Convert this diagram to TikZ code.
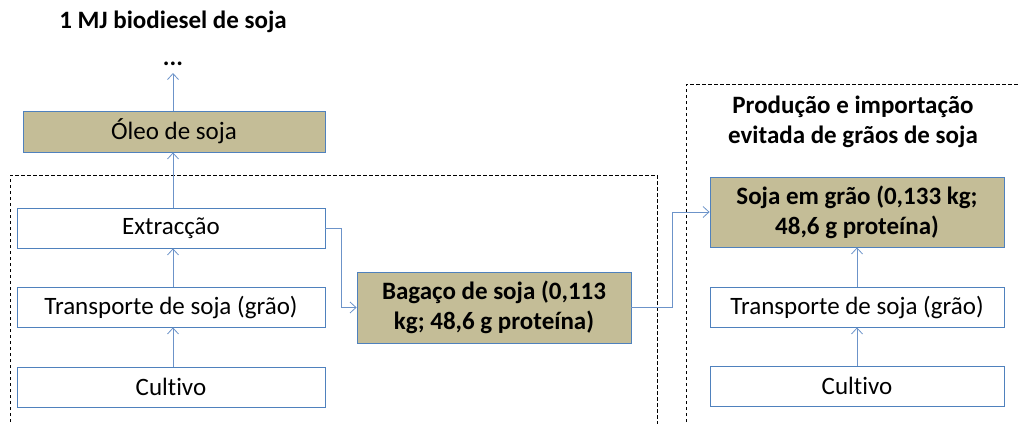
\documentclass[tikz,border=0pt]{standalone}
\usepackage{fontspec}
\setmainfont{Carlito}[RawFeature=-liga]
\usetikzlibrary{arrows.meta}
\definecolor{boxblue}{HTML}{4F81BD}
\definecolor{arrblue}{HTML}{6C93C9}
\definecolor{tan}{HTML}{C4BD97}
\begin{document}
\begin{tikzpicture}[x=1pt,y=-1pt,
  box/.style={draw=boxblue,line width=0.8pt,inner sep=0pt,align=center,font=\fontsize{25}{30}\selectfont},
  wbox/.style={box,fill=white},
  tbox/.style={box,fill=tan},
  bfont/.style={font=\fontsize{25}{30}\selectfont\bfseries},
  conn/.style={draw=arrblue,line width=0.8pt,-{Straight Barb[length=6pt,width=11pt]}},
  grp/.style={draw=black,line width=0.7pt,dash pattern=on 3.5pt off 2.5pt}]
\useasboundingbox (0,0) rectangle (1019,423);
\clip (0,0) rectangle (1019,423);
% group frames
\draw[grp] (10,440) -- (10,175) -- (657,175) -- (657,440);
\draw[grp] (686,440) -- (686,84) -- (1040,84);
% titles
\node[bfont] (title) at (173,22) {1 MJ biodiesel de soja};
\node[bfont,inner sep=0pt,anchor=south] (dots) at (173,66) {...};
\node[bfont,align=center] (rtitle) at (853,122) {Produção e importação\\evitada de grãos de soja};
% left column
\node[tbox,minimum width=302pt,minimum height=41pt] (oleo) at (174,131.5) {Óleo de soja};
\node[wbox,minimum width=308pt,minimum height=40pt] (extr) at (171,228) {Extracção};
\node[wbox,minimum width=308pt,minimum height=40pt] (trl) at (171,307) {Transporte de soja (grão)};
\node[wbox,minimum width=308pt,minimum height=40pt] (cul) at (171,387) {Cultivo};
\node[tbox,minimum width=274pt,minimum height=71pt,bfont,align=center] (bag) at (494,307.5) {Bagaço de soja (0,113\\kg; 48,6 g proteína)};
% right column
\node[tbox,minimum width=294pt,minimum height=70pt,bfont,align=center] (soja) at (857,212) {Soja em grão (0,133 kg;\\48,6 g proteína)};
\node[wbox,minimum width=294pt,minimum height=40pt] (trr) at (857,307) {Transporte de soja (grão)};
\node[wbox,minimum width=294pt,minimum height=40pt] (cur) at (857,386) {Cultivo};
% connectors
\coordinate (dtop) at (173,73);
\draw[conn] (oleo.north -| dtop) -- (dtop);
\draw[conn] (extr.north -| dtop) -- (oleo.south -| dtop);
\draw[conn] (trl.north -| dtop) -- (extr.south -| dtop);
\draw[conn] (cul.north -| dtop) -- (trl.south -| dtop);
\draw[conn] (extr.east) -- ++(16,0) |- (bag.west);
\draw[conn] (bag.east) -- ++(41,0) |- (soja.west);
\draw[conn] (trr.north) -- (soja.south);
\draw[conn] (cur.north) -- (trr.south);
\end{tikzpicture}
\end{document}
